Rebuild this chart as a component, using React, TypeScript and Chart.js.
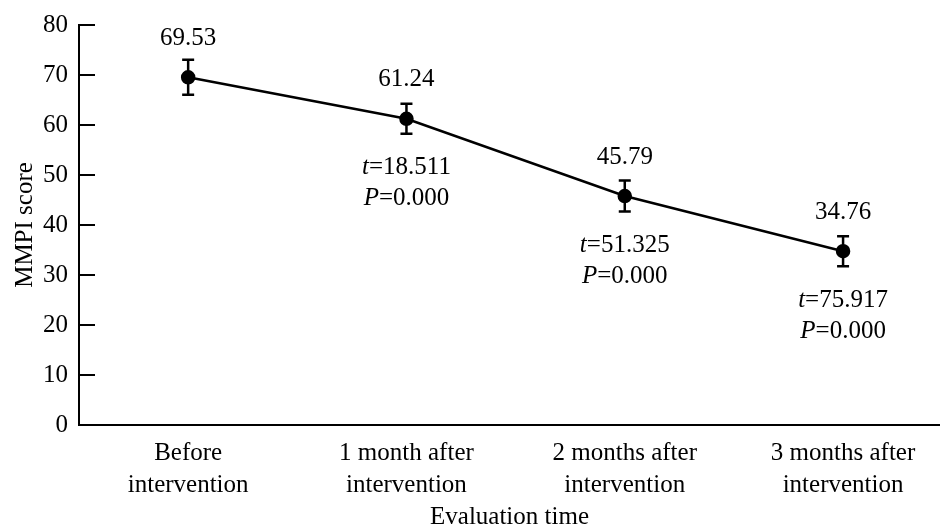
import React, { useEffect, useRef } from "react";
import { Chart, registerables } from "chart.js";

Chart.register(...registerables);

const CATEGORIES: string[][] = [
  ["Before", "intervention"],
  ["1 month after", "intervention"],
  ["2 months after", "intervention"],
  ["3 months after", "intervention"],
];
const SCORES = [69.53, 61.24, 45.79, 34.76];
const ERRORS = [3.5, 3.0, 3.1, 3.0];
const T_VALUES = ["", "18.511", "51.325", "75.917"];
const P_VALUES = ["", "0.000", "0.000", "0.000"];
const Y_MIN = 0;
const Y_MAX = 80;
const Y_STEP = 10;

const FONT = "'Liberation Serif', 'Times New Roman', serif";
const FS = 25;

const annotatePlugin = {
  id: "annotate",
  beforeDatasetsDraw(chart: any) {
    const { ctx, scales } = chart;
    const x = scales.x;
    const y = scales.y;
    ctx.save();
    ctx.strokeStyle = "#000";
    ctx.lineWidth = 2.5;
    SCORES.forEach((v, i) => {
      const px = x.getPixelForValue(i);
      const top = y.getPixelForValue(v + ERRORS[i]);
      const bot = y.getPixelForValue(v - ERRORS[i]);
      ctx.beginPath();
      ctx.moveTo(px, top);
      ctx.lineTo(px, bot);
      ctx.moveTo(px - 6, top);
      ctx.lineTo(px + 6, top);
      ctx.moveTo(px - 6, bot);
      ctx.lineTo(px + 6, bot);
      ctx.stroke();
    });
    ctx.restore();
  },
  afterDraw(chart: any) {
    const { ctx, scales, chartArea } = chart;
    const x = scales.x;
    const y = scales.y;
    ctx.save();
    ctx.strokeStyle = "#000";
    ctx.lineWidth = 2;
    y.ticks.forEach((t: any) => {
      const py = y.getPixelForValue(t.value);
      ctx.beginPath();
      ctx.moveTo(chartArea.left, py);
      ctx.lineTo(chartArea.left + 16, py);
      ctx.stroke();
    });
    ctx.fillStyle = "#000";
    ctx.textBaseline = "middle";
    SCORES.forEach((v, i) => {
      const px = x.getPixelForValue(i);
      const py = y.getPixelForValue(v);
      ctx.font = `${FS}px ${FONT}`;
      ctx.textAlign = "center";
      ctx.fillText(v.toFixed(2), px, py - 39);
      const drawPair = (ital: string, rest: string, yy: number) => {
        ctx.font = `italic ${FS}px ${FONT}`;
        const w1 = ctx.measureText(ital).width;
        ctx.font = `${FS}px ${FONT}`;
        const w2 = ctx.measureText(rest).width;
        const sx = px - (w1 + w2) / 2;
        ctx.textAlign = "left";
        ctx.font = `italic ${FS}px ${FONT}`;
        ctx.fillText(ital, sx, yy);
        ctx.font = `${FS}px ${FONT}`;
        ctx.fillText(rest, sx + w1, yy);
      };
      if (T_VALUES[i]) {
        drawPair("t", "=" + T_VALUES[i], py + 49);
        drawPair("P", "=" + P_VALUES[i], py + 80);
      }
    });
    ctx.restore();
  },
};

export default function App() {
  const ref = useRef<HTMLCanvasElement | null>(null);
  useEffect(() => {
    if (!ref.current) return;
    Chart.defaults.color = "#000";
    const chart = new Chart(ref.current, {
      type: "line",
      data: {
        datasets: [
          {
            data: SCORES.map((v, i) => ({ x: i, y: v })),
            borderColor: "#000",
            backgroundColor: "#000",
            borderWidth: 2.5,
            pointRadius: 6,
            pointHoverRadius: 6,
            pointBackgroundColor: "#000",
            pointBorderColor: "#000",
            tension: 0,
          },
        ],
      },
      options: {
        animation: false,
        responsive: true,
        maintainAspectRatio: false,
        layout: { autoPadding: false, padding: { top: 25, right: 0, left: 0, bottom: 0 } },
        plugins: {
          legend: { display: false },
          tooltip: { enabled: false },
        },
        scales: {
          x: {
            type: "linear",
            min: -0.5,
            max: 3.444,
            afterBuildTicks: (scale: any) => {
              scale.ticks = CATEGORIES.map((_, i) => ({ value: i }));
            },
            afterFit: (scale: any) => {
              scale.height = 105;
            },
            grid: { display: false, drawTicks: false },
            border: { display: true, color: "#000", width: 2 },
            ticks: {
              autoSkip: false,
              maxRotation: 0,
              minRotation: 0,
              padding: 13,
              color: "#000",
              font: { family: FONT, size: FS, lineHeight: 1.26 },
              callback: (v: any) => CATEGORIES[v as number] ?? "",
            },
            title: {
              display: true,
              text: "Evaluation time",
              color: "#000",
              font: { family: FONT, size: FS, lineHeight: 1 },
              padding: { top: 0, bottom: 0 },
            },
          },
          y: {
            min: Y_MIN,
            max: Y_MAX,
            afterFit: (scale: any) => {
              scale.width = 79;
            },
            grid: { display: false, drawTicks: false },
            border: { display: true, color: "#000", width: 2 },
            ticks: {
              stepSize: Y_STEP,
              padding: 11,
              color: "#000",
              font: { family: FONT, size: FS, lineHeight: 1 },
            },
            title: {
              display: true,
              text: "MMPI score",
              color: "#000",
              font: { family: FONT, size: FS, lineHeight: 1 },
              padding: { top: 13, bottom: 0 },
            },
          },
        },
      },
      plugins: [annotatePlugin],
    });
    return () => chart.destroy();
  }, []);
  return (
    <div style={{ position: "absolute", left: 0, top: 0, width: 940, height: 530 }}>
      <canvas ref={ref} />
    </div>
  );
}
